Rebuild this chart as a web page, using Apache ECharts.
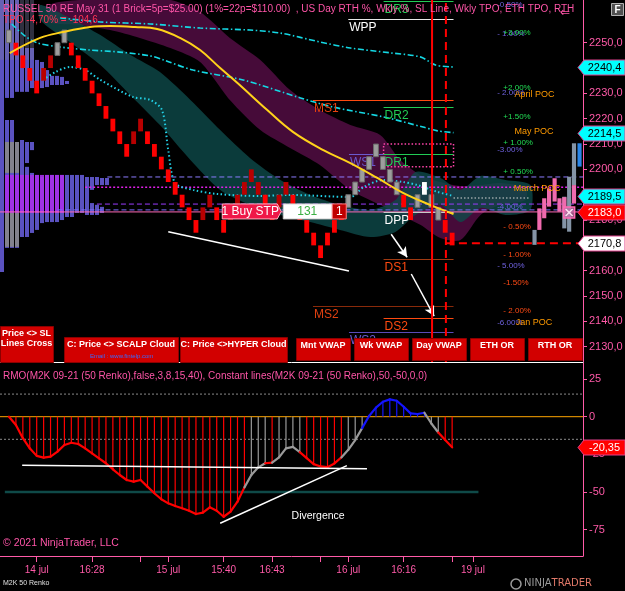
<!DOCTYPE html>
<html>
<head>
<meta charset="utf-8">
<script src="https://cdn.jsdelivr.net/npm/echarts@6.0.0/dist/echarts.min.js"></script>
<style>
html,body{margin:0;padding:0;background:#000;overflow:hidden;}
#chart{width:625px;height:591px;}
</style>
</head>
<body>
<div id="chart"></div>
<script>
// ================= DATA =================
const priceTicks = [2130,2140,2150,2160,2170,2180,2190,2200,2210,2220,2230,2240,2250];
const rmoTicks = [25,0,-25,-50,-75];
const timeTickIdx = [4,12,19,23,31,38,45,49,57,64,67];
const timeLabelIdx = [4,12,23,31,38,49,57,67];
const timeLabels = ['14 jul','16:28','15 jul','15:40','16:43','16 jul','16:16','19 jul'];

// Renko bricks (5 points each): low of brick, and brick colour class
const brickLow = [2250,2245,2240,2235,2230, 2235,2240,2245,2250,2245, 2240,2235,2230,2225,2220,
  2215,2210,2205,2210,2215, 2210,2205,2200,2195,2190, 2185,2180,2175,2180,2185,
  2180,2175,2180,2185,2190, 2195,2190,2185,2180,2185, 2190,2185,2180,2175,2170,
  2165,2170,2175,2180,2185, 2190,2195,2200,2205,2200, 2195,2190,2185,2180,2185,
  2190,2185,2180,2175,2170];
const brickType = ('GRRRR'+'DDGGR'+'RRRRR'+'RRRDD'+'RRRRR'+'RRRDD'+'RRDDD'+'DDRRD'+'DRRRR'+'RRRRG'+'GGGGG'+'GGRRG'+'WGGRR').split('');

// right-side session candles
const rcIdx  = [75.9,76.6,77.3,78.0,78.8,79.5,80.2,80.2,80.9,81.6,81.6,82.4];
const rcLow  = [2170.2,2176.1,2180.7,2185.3,2187.3,2183.3,2176.7,2183.0,2175.4,2193.8,2186.5,2201.1];
const rcHigh = [2176.1,2184.6,2188.6,2192.5,2196.5,2188.6,2189.2,2189.0,2197.1,2210.3,2193.8,2210.3];
const rcType = ['g','p','p','p','p','p','g','p','g','g','p','b'];

// RMO oscillator
const rmoVal = [0,-5.5,-14.3,-21,-26,-27.2,-26.5,-23.2,-18.8,-17.3,
  -18.1,-21,-24.3,-27.6,-30.9,-34.9,-38.7,-42,-43.1,-42,
  -46.4,-50.8,-54.8,-57.5,-59.3,-60.8,-62.4,-64.6,-63.7,-60.1,
  -62.4,-66.4,-63,-56.4,-46.9,-38.7,-33.6,-30.9,-30.5,-27,
  -21,-20,-23.5,-27.5,-31.5,-33,-33.5,-31,-27,-22,
  -15.5,-7.6,0.5,6,9.9,11.5,10.6,6.6,2.2,1.8,
  2.6,-4.5,-10.5,-15.5,-20.35];
const rmoType = ('RRRRRRRRRR'+'RRRRRRRRRR'+'RRRRRRRRRR'+'RRRRR'+'GGG'+'R'+'GGGG'+'RRRRRR'+'GGG'+'BBBBBBBBB'+'GG'+'RR').split('');

// clouds
const maroonIdx = [5.9,10.3,14.6,18.9,23.3,27.6,31.9,36.3,40.6,44.9,49.3,53.6,56.5,59.4,62.3,65.2,68.1,71.0,74.6];
const maroonTop = [2264.9,2266.9,2266.9,2266.9,2266.9,2262.1,2251.9,2243.2,2231.3,2223.4,2217.5,2213.6,2203.7,2197.8,2195.0,2193.4,2193.8,2194.6,2192.6];
const maroonBot = [2258.2,2257.0,2255.0,2251.9,2247.9,2242.4,2227.4,2215.5,2208.4,2201.7,2191.9,2186.0,2182.0,2178.1,2172.9,2172.1,2182.0,2186.0,2187.9];
const tealIdx = [4.5,8.8,13.2,17.5,21.8,26.2,30.5,34.8,39.2,43.5,47.8,52.2,55.8,58.7,62.3,65.2,68.1,71.7,75.3];
const tealTop = [2264.9,2259.8,2253.0,2245.2,2238.4,2227.4,2215.5,2204.5,2195.8,2189.9,2186.0,2184.0,2187.9,2199.0,2196.6,2191.9,2197.4,2195.8,2193.8];
const tealBot = [2259.0,2250.3,2241.2,2229.4,2217.5,2203.7,2191.9,2186.0,2182.0,2179.2,2176.1,2173.3,2175.3,2182.0,2186.0,2179.2,2184.8,2182.0,2184.0];

// indicator lines
const cyanUpIdx = [7.4,13.2,20.4,27.6,34.8,39.2,44.9,49.3,55.1,59.4,61.6,64.2];
const cyanUpVal = [2259.8,2258.2,2257.4,2255.8,2255.0,2253.8,2250.3,2247.9,2246.0,2244.4,2241.2,2240.4];
const cyanMidIdx = [0.4,2.3,4.1,7.4,11.7,16.0,20.4,22.3,26.6,33.8,42.1,46.8,54.1,59.8,61.9,64.2];
const cyanMidVal = [2257.4,2252.7,2249.9,2248.3,2247.1,2246.3,2244.8,2243.2,2239.2,2235.3,2228.2,2224.6,2220.7,2216.7,2215.2,2214.5];
const slIdx = [4.9,6.7,8.8,11.0,13.2,17.9,20.4,22.1,23.0,24.0,26.6,30.1,36.3,40.6,49.3,51.2,54.1,56.9,59.0,61.9,64.2];
const slVal = [2235.3,2238.4,2240.4,2239.2,2235.3,2228.6,2227.4,2223.4,2207.6,2194.6,2191.9,2190.3,2189.5,2189.9,2189.1,2193.0,2195.8,2195.0,2193.8,2191.1,2189.5];
const yellowIdx = [0.1,4.5,7.8,11.7,14.6,18.2,21.4,24.7,27.6,30.5,33.0,37.3,41.0,45.4,49.3,53.2,56.9,60.8,64.2];
const yellowVal = [2245.9,2251.9,2254.2,2256.2,2256.6,2256.2,2255.4,2251.9,2247.1,2240.0,2234.1,2223.4,2214.8,2207.6,2202.5,2196.6,2190.7,2186.0,2182.4];

// pivot levels
const levelNames = ['DR3','WPP','MS1','DR2','WS1','DR1','DPP','DS1','MS2','DS2','WS2'];
const levelStart = [54.1,49.0,43.9,54.1,49.1,54.1,54.1,54.1,43.9,54.1,49.1];
const levelEnd   = [64.2,64.2,64.2,64.2,54.1,64.2,64.2,64.2,64.2,64.2,64.2];
const levelPrice = [2266.6,2259.4,2227.4,2224.6,2206.1,2206.1,2183.3,2164.6,2146.1,2141.4,2135.8];

// horizontal profile lines
const hLinePrice = [2197.0,2192.9,2186.3,2184.0,2183.2,2188.7];
const hLineStart = [14.2,11.0,12.7,7.0,-1.3,64.2];
const hLineEnd   = [82.9,82.9,82.9,82.9,82.9,75.3];

// TPO profile blocks (column range, price range, class)
const tpoC0 = [0,1,1,3,3,4,4,5,5,5,6,6,6,7,7,8,8,9,9,10,12,12,13,13,15,17,18,18,19,19,20,20, 1,1,1,0];
const tpoC1 = [1,3,3,4,4,5,5,6,6,6,7,7,7,8,8,9,9,10,12,12,13,13,14,15,17,18,19,19,20,20,22,21, 13,4,4,7];
const tpoLo = [2159.5,2228.2,2169.0,2230.6,2169.0,2230.6,2173.3,2230.6,2173.3,2202.5,2232.1,2174.9,2207.6,2232.1,2176.1,2232.1,2178.8,2232.5,2179.2,2233.3,2233.3,2180.0,2233.7,2181.2,2182.8,2182.0,2191.9,2182.0,2193.8,2182.0,2193.8,2182.8, 2182.8,2198.6,2169.4,2243.2];
const tpoHi = [2266.9,2266.9,2219.5,2266.9,2210.8,2248.3,2211.6,2247.9,2201.0,2210.8,2247.9,2198.6,2210.8,2243.2,2197.8,2242.4,2197.0,2239.2,2197.8,2236.9,2236.5,2197.8,2234.9,2197.8,2197.8,2197.0,2197.0,2186.7,2197.0,2186.0,2196.6,2185.2, 2197.8,2210.8,2182.8,2266.9];
const tpoType = 'bbbbbbbbbbbbbbbbbbbbbbbbbbbbbbbb'.split('').concat(['v','g','g','d']);

// right-side percentage / POC labels
const pctText  = ['-0.50%','- 1.00%','+3.00%','+2.00%','- 2.00%','April POC','+1.50%','May POC','+ 1.00%','-3.00%','+ 0.50%','March POC','-4.00%','- 0.50%','- 1.00%','- 5.00%','-1.50%','- 2.00%','-6.00%','Jan POC'];
const pctIdx   = [70.5,70.5,71.4,71.4,70.5,73.0,71.4,73.0,71.4,70.5,71.4,72.9,70.5,71.4,71.4,70.5,71.4,71.4,70.5,73.2];
const pctPrice = [2264.9,2253.4,2253.8,2232.1,2230.2,2229.4,2220.7,2215.1,2210.4,2207.6,2199.0,2192.6,2185.1,2177.2,2166.2,2161.9,2155.2,2144.1,2139.4,2139.4];
const pctClass = ['w','w','u','u','w','o','u','o','u','w','u','o','w','d','d','w','d','d','w','o'];

// price tags on the axis
const badgePrice = [2240.4,2214.5,2189.5,2183.0,2170.8];
const badgeClass = ['c','c','c','r','w'];
const rmoLast = [-20.35];

// drawings
const trendTop = [[23.0,2175.4],[49.1,2159.9]];
const arrow1 = [[55.2,2174.4],[57.5,2165.3]];
const arrow2 = [[58.1,2158.7],[61.4,2142.1]];
const rmoFlat = [[1.9,-32.2],[51.7,-34.5]];
const rmoDiag = [[30.5,-70.7],[48.8,-32.5]];
const dpBox = [[54.1,2210.0],[64.2,2210.0],[64.2,2201.0],[54.1,2201.0],[54.1,2210.0]];
const vSolidIdx = 61.1, vDashIdx = 63.1, lastPrice = 2170.8;
const order = [30.8, 2183.4];
const markerX = [80.9, 2183.0];
const divText = [44.65, -65.7];

// ================= CHART =================
const FONT = '"Liberation Sans", Arial, sans-serif';
const PINK = '#ff5aa8';
const X_MIN = -1.3, X_MAX = 82.9;
const P_MIN = 2123.96, P_MAX = 2266.86;
const R_MIN = -92.44, R_MAX = 35.63;
const brickFill = {R:'#ff0000', D:'#b80000', G:'#9d9d9d', W:'#ffffff'};
const rmoFill = {R:'#ff0000', G:'#9a9a9a', B:'#1414ff'};
const rcFill = {p:'#f06aae', g:'#8494a6', b:'#2a86e8'};
const tpoFill = {b:'#5a52c0', v:'rgba(165,48,232,0.92)', g:'rgba(135,135,135,0.9)', d:'rgba(120,120,160,0.4)'};
const levelLineColor = ['#22cc55','#e8e8e8','#ff4a10','#22cc55','#6a5acd','#22cc55','#c8c8c8','#a03a12','#8a2a0a','#ff4a10','#5a4ab8'];
const levelTextColor = ['#22cc55','#ffffff','#e84010','#22cc55','#6a5acd','#22cc55','#ffffff','#ff4a10','#e04010','#ff4a10','#6a5acd'];
const pctColor = {w:'#6f62e0', u:'#22dd55', o:'#ff9a00', d:'#ff4a14'};
const badgeStyle = {c:['#00ffff','#000'], r:['#ff0000','#fff'], w:['#ffffff','#000']};
const hLineStyle = [
  {color:'#8c7cff', width:1, type:[5,3]},
  {color:'#e020e8', width:1.5, type:[2,2]},
  {color:'#9a3cff', width:1, type:[5,3]},
  {color:'#7a6cff', width:1, type:[5,3]},
  {color:'#ff6ab8', width:1, type:'solid'},
  {color:'#d8d8d8', width:1.2, type:[1.5,2]}
];
const fmtP = v => v.toFixed(1).replace('.', ',');

function lineSeries(pts, style, xi, yi, extra) {
  return Object.assign({type:'line', xAxisIndex:xi, yAxisIndex:yi, data:pts, symbol:'none',
    silent:true, animation:false, lineStyle:style, z:3}, extra || {});
}
function cloudSeries(idx, top, bot, fill, z) {
  return {type:'custom', xAxisIndex:0, yAxisIndex:0, clip:true, silent:true, z:z,
    data: idx.map((x,k)=>[x, top[k], bot[k]]),
    renderItem(params, api) {
      if (params.dataIndex !== 0) return null;
      const pts = [];
      for (let k=0;k<idx.length;k++) pts.push(api.coord([idx[k], top[k]]));
      for (let k=idx.length-1;k>=0;k--) pts.push(api.coord([idx[k], bot[k]]));
      return {type:'polygon', shape:{points:pts, smooth:0.25}, style:{fill:fill}};
    }};
}

const series = [];
series.push(cloudSeries(maroonIdx, maroonTop, maroonBot, 'rgba(74,12,60,0.95)', 1));
series.push(cloudSeries(tealIdx, tealTop, tealBot, 'rgba(14,74,74,0.80)', 1));
series.push({type:'custom', xAxisIndex:2, yAxisIndex:0, clip:true, silent:true, z:2,
  data: tpoC0.map((c,k)=>[c, tpoLo[k], tpoHi[k]]),
  renderItem(params, api) {
    const k = params.dataIndex, ch = [];
    for (let c=tpoC0[k]; c<tpoC1[k]; c++) {
      const a = api.coord([c, tpoHi[k]]), b = api.coord([c+1, tpoLo[k]]);
      ch.push({type:'rect', shape:{x:a[0], y:a[1], width:b[0]-a[0]-1, height:b[1]-a[1]}, style:{fill:tpoFill[tpoType[k]]}});
    }
    return {type:'group', children:ch};
  }});
hLinePrice.forEach((p,k)=>series.push(lineSeries([[hLineStart[k],p],[hLineEnd[k],p]], hLineStyle[k], 0, 0)));
series.push({type:'custom', xAxisIndex:0, yAxisIndex:0, silent:true, z:4, clip:false,
  data: levelPrice.map((p,k)=>[levelStart[k], p, levelEnd[k]]),
  renderItem(params, api) {
    const k = params.dataIndex;
    const a = api.coord([levelStart[k], levelPrice[k]]), b = api.coord([levelEnd[k], levelPrice[k]]);
    const y = Math.round(a[1]) + 0.5;
    return {type:'group', children:[
      {type:'line', shape:{x1:a[0], y1:y, x2:b[0], y2:y}, style:{stroke:levelLineColor[k], lineWidth:1.2}},
      {type:'text', x:a[0]+1, y:y+2, style:{text:levelNames[k], fill:levelTextColor[k], fontSize:12, fontFamily:FONT, align:'left', verticalAlign:'top'}}
    ]};
  }});
series.push(lineSeries(dpBox, {color:'#ff44aa', width:1.5, type:[1.5,2]}, 0, 0));
series.push(lineSeries(cyanUpIdx.map((x,k)=>[x,cyanUpVal[k]]), {color:'#14d8e4', width:1.6, type:[6,2.5,1.5,2.5]}, 0, 0, {smooth:0.3}));
series.push(lineSeries(cyanMidIdx.map((x,k)=>[x,cyanMidVal[k]]), {color:'#14d8e4', width:1.6, type:[6,2.5,1.5,2.5]}, 0, 0, {smooth:0.3}));
series.push(lineSeries(slIdx.map((x,k)=>[x,slVal[k]]), {color:'#22d0e6', width:2, type:[1.5,2.5]}, 0, 0, {smooth:0.3}));
series.push(lineSeries(yellowIdx.map((x,k)=>[x,yellowVal[k]]), {color:'#ffd21a', width:2}, 0, 0, {smooth:0.4, z:6}));
series.push({type:'custom', xAxisIndex:0, yAxisIndex:0, silent:true, z:5,
  data: brickLow.map((lo,i)=>[i, lo, lo+5]),
  renderItem(params, api) {
    const i = api.value(0), t = brickType[params.dataIndex];
    const top = api.coord([i, api.value(2)]), bot = api.coord([i, api.value(1)]);
    const w = api.size([0.7, 0])[0];
    return {type:'rect', shape:{x:top[0]-w/2, y:top[1], width:w, height:bot[1]-top[1]},
      style:{fill:brickFill[t], stroke: t==='G' ? '#6a6a6a' : null, lineWidth:1}};
  }});
series.push({type:'custom', xAxisIndex:0, yAxisIndex:0, silent:true, z:5,
  data: rcIdx.map((x,k)=>[x, rcLow[k], rcHigh[k]]),
  renderItem(params, api) {
    const k = params.dataIndex;
    const top = api.coord([rcIdx[k], rcHigh[k]]), bot = api.coord([rcIdx[k], rcLow[k]]);
    const w = api.size([0.6, 0])[0];
    return {type:'rect', shape:{x:top[0]-w/2, y:top[1], width:w, height:bot[1]-top[1]}, style:{fill:rcFill[rcType[k]]}};
  }});
series.push(lineSeries([[vSolidIdx,P_MIN],[vSolidIdx,P_MAX]], {color:'#ff0000', width:2}, 0, 0, {z:7}));
series.push(lineSeries([[vDashIdx,P_MIN],[vDashIdx,P_MAX]], {color:'#ff0000', width:2, type:[8,5]}, 0, 0, {z:7}));
series.push(lineSeries([[vDashIdx,lastPrice],[X_MAX,lastPrice]], {color:'#ff0000', width:2, type:[8,5]}, 0, 0, {z:7}));
series.push(lineSeries(trendTop, {color:'#ffffff', width:1.5}, 0, 0, {z:7}));
series.push({type:'line', xAxisIndex:0, yAxisIndex:0, data:[], silent:true, z:7,
  markLine:{silent:true, symbol:['none','arrow'], symbolSize:[8,10], animation:false, label:{show:false},
    lineStyle:{color:'#ffffff', width:1.5, type:'solid'},
    data:[[{coord:arrow1[0]},{coord:arrow1[1]}],[{coord:arrow2[0]},{coord:arrow2[1]}]]}});
series.push({type:'custom', xAxisIndex:0, yAxisIndex:0, silent:true, z:8, clip:false,
  data:[order],
  renderItem(params, api) {
    const p = api.coord([api.value(0), api.value(1)]);
    const x = p[0], y = p[1], h = 15;
    return {type:'group', children:[
      {type:'polygon', shape:{points:[[x,y-h/2],[x+55,y-h/2],[x+59,y],[x+55,y+h/2],[x,y+h/2]]}, style:{fill:'#ef1848', stroke:'#ffb0c0', lineWidth:1}},
      {type:'text', x:x+28, y:y, style:{text:'1 Buy STP', fill:'#fff', fontSize:12, fontFamily:FONT, align:'center', verticalAlign:'middle'}},
      {type:'rect', shape:{x:x+61, y:y-h/2, width:49, height:h}, style:{fill:'#ffffff', stroke:'#d0d0d0'}},
      {type:'text', x:x+85, y:y, style:{text:'131', fill:'#3cb043', fontSize:12, fontFamily:FONT, align:'center', verticalAlign:'middle'}},
      {type:'rect', shape:{x:x+110, y:y-h/2, width:14, height:h}, style:{fill:'#c00000', stroke:'#ff8080'}},
      {type:'text', x:x+117, y:y, style:{text:'1', fill:'#fff', fontSize:12, fontFamily:FONT, align:'center', verticalAlign:'middle'}}
    ]};
  }});
series.push({type:'custom', xAxisIndex:0, yAxisIndex:0, silent:true, z:9,
  data:[markerX],
  renderItem(params, api) {
    const p = api.coord([api.value(0), api.value(1)]), s = 5.5;
    return {type:'group', children:[
      {type:'rect', shape:{x:p[0]-s, y:p[1]-s, width:2*s, height:2*s}, style:{fill:'rgba(200,110,170,0.75)', stroke:'#ff69b4', lineWidth:1.5}},
      {type:'line', shape:{x1:p[0]-3.5, y1:p[1]-3.5, x2:p[0]+3.5, y2:p[1]+3.5}, style:{stroke:'#ffe0f0', lineWidth:1.5}},
      {type:'line', shape:{x1:p[0]-3.5, y1:p[1]+3.5, x2:p[0]+3.5, y2:p[1]-3.5}, style:{stroke:'#ffe0f0', lineWidth:1.5}}
    ]};
  }});
series.push({type:'custom', xAxisIndex:0, yAxisIndex:0, silent:true, z:9, clip:false,
  data: pctIdx.map((x,k)=>[x, pctPrice[k]]),
  renderItem(params, api) {
    const k = params.dataIndex, p = api.coord([api.value(0), api.value(1)]);
    const poc = pctClass[k] === 'o';
    return {type:'text', x:p[0], y:p[1], style:{text:pctText[k], fill:pctColor[pctClass[k]], fontSize: poc ? 9 : 8, fontFamily:FONT, align:'left', verticalAlign:'middle'}};
  }});
function tag(x0, y, txt, bg, fg) {
  const h = 15, w = 47;
  return {type:'group', children:[
    {type:'polygon', shape:{points:[[x0,y],[x0+6,y-h/2],[x0+w,y-h/2],[x0+w,y+h/2],[x0+6,y+h/2]]}, style:{fill:bg, stroke:'#e0408c', lineWidth:1}},
    {type:'text', x:x0+6+(w-6)/2, y:y, style:{text:txt, fill:fg, fontSize:11, fontFamily:FONT, align:'center', verticalAlign:'middle'}}
  ]};
}
series.push({type:'custom', xAxisIndex:0, yAxisIndex:0, silent:true, z:20, clip:false,
  data: badgePrice.map(p=>[X_MAX, p]),
  renderItem(params, api) {
    const k = params.dataIndex, p = api.coord([X_MAX, badgePrice[k]]);
    const st = badgeStyle[badgeClass[k]];
    return tag(p[0]-5, Math.round(p[1])+0.5, fmtP(badgePrice[k]), st[0], st[1]);
  }});

// ---- RMO panel ----
series.push(lineSeries([[X_MIN,15],[X_MAX,15]], {color:'#8a8a8a', width:1, type:[2,2]}, 1, 1, {z:1}));
series.push(lineSeries([[X_MIN,-15],[X_MAX,-15]], {color:'#8a8a8a', width:1, type:[2,2]}, 1, 1, {z:1}));
series.push(lineSeries([[X_MIN,0],[X_MAX,0]], {color:'#ffa500', width:1}, 1, 1, {z:1}));
series.push(lineSeries([[-0.6,-50],[67.8,-50]], {color:'#0f4a48', width:2.5}, 1, 1, {z:1}));
series.push({type:'custom', xAxisIndex:1, yAxisIndex:1, silent:true, z:4,
  data: rmoVal.map((v,i)=>[i, v]),
  renderItem(params, api) {
    const i = api.value(0), v = api.value(1), col = rmoFill[rmoType[i]];
    const a = api.coord([i, 0]), b = api.coord([i, v]);
    const ch = [{type:'line', shape:{x1:a[0], y1:a[1], x2:b[0], y2:b[1]}, style:{stroke:col, lineWidth:1.2}}];
    if (i > 0) {
      const p = api.coord([i-1, rmoVal[i-1]]);
      ch.push({type:'line', z2:5, shape:{x1:p[0], y1:p[1], x2:b[0], y2:b[1]}, style:{stroke:col, lineWidth:2.2, lineCap:'round'}});
    }
    return {type:'group', children:ch};
  }});
series.push(lineSeries(rmoFlat, {color:'#ffffff', width:1.5}, 1, 1, {z:6}));
series.push(lineSeries(rmoDiag, {color:'#ffffff', width:1.5}, 1, 1, {z:6}));
series.push({type:'custom', xAxisIndex:1, yAxisIndex:1, silent:true, z:6,
  data:[divText],
  renderItem(params, api) {
    const p = api.coord([api.value(0), api.value(1)]);
    return {type:'text', x:p[0], y:p[1], style:{text:'Divergence', fill:'#ffffff', fontSize:10.5, fontFamily:FONT, align:'center', verticalAlign:'middle'}};
  }});
series.push({type:'custom', xAxisIndex:1, yAxisIndex:1, silent:true, z:20, clip:false,
  data: rmoLast.map(v=>[X_MAX, v]),
  renderItem(params, api) {
    const p = api.coord([X_MAX, rmoLast[0]]);
    return tag(p[0]-5, Math.round(p[1])+0.5, rmoLast[0].toFixed(2).replace('.', ','), '#ff0000', '#ffffff');
  }});

// ---- graphic (title, buttons, footer) ----
function txt(x, y, s, fill, font, align) {
  return {type:'text', x:x, y:y, z:50, silent:true, style:{text:s, fill:fill, font:font, align:align||'left', verticalAlign:'top'}};
}
const buttons = [
  {x:0, y:326, w:53, h:36, t:['Price <> SL','Lines Cross']},
  {x:64, y:337, w:114, h:25, t:['C: Price <> SCALP Cloud']},
  {x:180, y:337, w:107, h:25, t:['C: Price <>HYPER Cloud']},
  {x:296, y:338, w:54, h:22, t:['Mnt VWAP']},
  {x:354, y:338, w:54, h:22, t:['Wk VWAP']},
  {x:412, y:338, w:54, h:22, t:['Day VWAP']},
  {x:470, y:338, w:54, h:22, t:['ETH OR']},
  {x:528, y:338, w:54, h:22, t:['RTH OR']}
];
const graphic = [];
buttons.forEach(b => {
  graphic.push({type:'rect', z:40, silent:true, shape:{x:b.x+0.5, y:b.y+0.5, width:b.w, height:b.h}, style:{fill:'#d20000', stroke:'#8c0000', lineWidth:1}});
  b.t.forEach((s,k)=>graphic.push(txt(b.x+b.w/2, b.y+3+k*10, s, '#ffffff', 'bold 9px '+FONT, 'center')));
});
graphic.push(txt(90, 353, 'Email : www.fintelp.com', '#3a6aff', '6px '+FONT));
graphic.push(txt(3, 4, 'RUSSEL 50 RE May 31 (1 Brick=5p=$25.00) (1%=22p=$110.00)  , US Day RTH %, Wkly %, SL Line, Wkly TPO, ETH TPO, RTH', '#ff55a8', '10px '+FONT));
graphic.push(txt(3, 15, 'TPO -4,70% = -104,6', '#ff3355', '10px '+FONT));
graphic.push(txt(560, 7, '\u21D0', '#ff55a8', '12px "DejaVu Sans"'));
graphic.push({type:'rect', z:50, silent:true, shape:{x:611.5, y:3.5, width:12, height:12}, style:{fill:'#505050', stroke:'#b0b0b0', lineWidth:1}});
graphic.push(txt(614.5, 5, 'F', '#ffffff', 'bold 10px '+FONT));
graphic.push(txt(3, 371, 'RMO(M2K 09-21 (50 Renko),false,3,8,15,40), Constant lines(M2K 09-21 (50 Renko),50,-50,0,0)', '#ff55a8', '10px '+FONT));
graphic.push(txt(3, 538, '\u00A9 2021 NinjaTrader, LLC', '#ff55a8', '10.5px '+FONT));
graphic.push(txt(3, 580, 'M2K 50 Renko', '#e0e0e0', '7px '+FONT));
graphic.push({type:'circle', z:50, silent:true, shape:{cx:516, cy:584, r:5}, style:{fill:'none', stroke:'#9a9a9a', lineWidth:1.5}});
graphic.push({type:'text', x:524, y:578, z:50, silent:true, style:{
  rich:{a:{fill:'#9a9a9a', font:'10px "DejaVu Sans"'}, b:{fill:'#e07868', font:'10px "DejaVu Sans"'}},
  text:'{a|NINJA}{b|TRADER}', verticalAlign:'top'}});

const option = {
  backgroundColor:'#000000',
  animation:false,
  grid:[
    {left:0, top:0, right:42, height:362, containLabel:false, outerBoundsMode:'none'},
    {left:0, top:363, right:42, height:193, containLabel:false, outerBoundsMode:'none'}
  ],
  xAxis:[
    {type:'value', gridIndex:0, min:X_MIN, max:X_MAX, axisLine:{show:true, onZero:false, lineStyle:{color:'#ffffff', width:1}}, axisTick:{show:false}, axisLabel:{show:false}, splitLine:{show:false}},
    {type:'value', gridIndex:1, min:X_MIN, max:X_MAX, axisLine:{show:true, onZero:false, lineStyle:{color:PINK, width:1}},
      axisTick:{show:true, customValues:timeTickIdx, length:6, lineStyle:{color:PINK}},
      axisLabel:{show:true, customValues:timeLabelIdx, formatter:v=>timeLabels[timeLabelIdx.indexOf(v)] || '', color:PINK, fontSize:10, fontFamily:FONT, margin:9},
      splitLine:{show:false}},
    {type:'value', gridIndex:0, min:0, max:116.6, show:false}
  ],
  yAxis:[
    {type:'value', gridIndex:0, position:'right', min:P_MIN, max:P_MAX, axisLine:{show:true, onZero:false, lineStyle:{color:PINK}},
      axisTick:{show:true, customValues:priceTicks, length:4, lineStyle:{color:PINK}},
      axisLabel:{customValues:priceTicks, formatter:fmtP, color:PINK, fontSize:11, fontFamily:FONT, margin:6},
      splitLine:{show:false}},
    {type:'value', gridIndex:1, position:'right', min:R_MIN, max:R_MAX, axisLine:{show:true, onZero:false, lineStyle:{color:PINK}},
      axisTick:{show:true, customValues:rmoTicks, length:4, lineStyle:{color:PINK}},
      axisLabel:{customValues:rmoTicks, formatter:v=>String(v), color:PINK, fontSize:11, fontFamily:FONT, margin:6},
      splitLine:{show:false}}
  ],
  graphic:{elements:graphic},
  series:series
};
const chart = echarts.init(document.getElementById('chart'), null, {renderer:'canvas'});
chart.setOption(option);
</script>
</body>
</html>
